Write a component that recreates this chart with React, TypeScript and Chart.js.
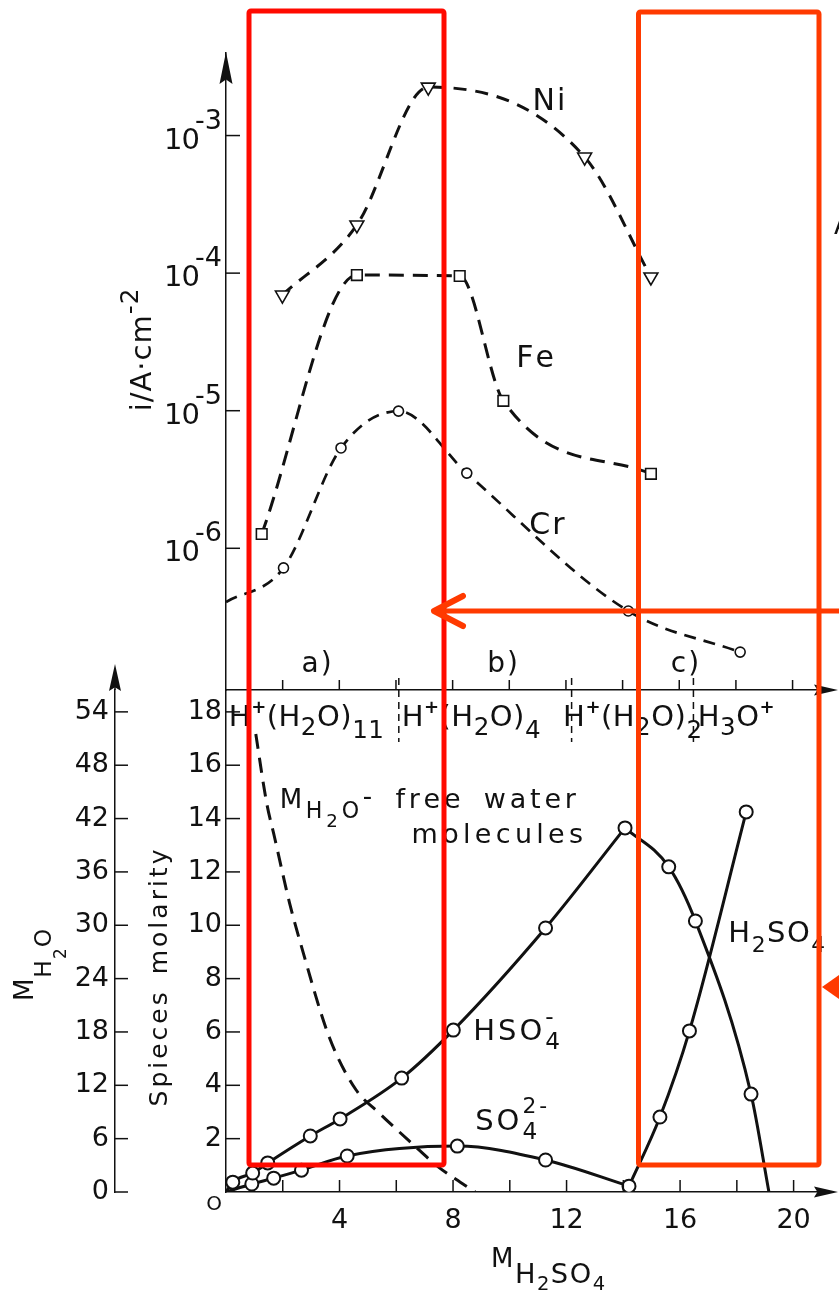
import React, { useEffect, useRef } from 'react';
import { Chart, registerables } from 'chart.js';

Chart.register(...registerables);

const FONT = '"DejaVu Sans", "Liberation Sans", sans-serif';
const INK = '#111';

// ---------- Upper panel: current density i (A/cm2, log) vs M H2SO4
const NI_X = [1.99, 4.62, 7.14, 12.66, 15.0];
const NI_I = [6.93e-5, 2.24e-4, 2.25e-3, 6.98e-4, 9.37e-5];
const FE_X = [1.26, 4.62, 8.25, 9.79, 15.0];
const FE_I = [1.27e-6, 9.68e-5, 9.53e-5, 1.18e-5, 3.48e-6];
const CR_X = [0, 2.03, 4.06, 6.09, 8.5, 14.2, 18.15];
const CR_I = [4.07e-7, 7.2e-7, 5.36e-6, 9.93e-6, 3.52e-6, 3.5e-7, 1.76e-7];
const LOG_DECADES = [-3, -4, -5, -6];
const SERIES_NAMES = ['Ni', 'Fe', 'Cr'];
const SERIES_LABEL_X = [11.4, 10.91, 11.33];
const SERIES_LABEL_I = [1.53e-3, 2.08e-5, 1.27e-6];
const REGION_NAMES = ['a)', 'b)', 'c)'];
const REGION_X = [3.2, 9.76, 16.2];
const SEPARATOR_X = [6.1, 12.2, 16.5];
const CLUSTER_X = [0.1, 6.2, 11.9, 16.65];

// ---------- Lower panel: species molarity vs M H2SO4
const HSO4_RISE_X = [0, 0.24, 0.94, 1.47, 2.97, 4.02, 6.19, 8.01, 11.26, 14.06];
const HSO4_RISE_Y = [0, 0.37, 0.71, 1.09, 2.1, 2.74, 4.27, 6.07, 9.9, 13.65];
const HSO4_FALL_X = [14.06, 15.6, 16.54, 18.5, 19.13];
const HSO4_FALL_Y = [13.65, 12.19, 10.16, 3.67, 0];
const SO4_X = [0, 0.91, 1.68, 2.66, 4.27, 8.15, 11.26, 14.2];
const SO4_Y = [0, 0.3, 0.52, 0.82, 1.35, 1.72, 1.2, 0.22];
const H2SO4_X = [14.2, 15.29, 16.33, 18.33];
const H2SO4_Y = [0.22, 2.81, 6.04, 14.25];
const WATER_X = [1.05, 1.43, 1.71, 2.24, 2.66, 3.64, 4.58, 5.39, 6.54, 7.49, 8.78];
const WATER_M = [51.5, 43.8, 39.9, 32.5, 27.6, 17.4, 11.5, 8.9, 5.5, 2.8, 0];
const X_TICKS = [2, 4, 6, 8, 10, 12, 14, 16, 18, 20];
const X_LABELS = [4, 8, 12, 16, 20];
const MOL_TICKS = [2, 4, 6, 8, 10, 12, 14, 16, 18];
const WATER_TICKS = [0, 6, 12, 18, 24, 30, 36, 42, 48, 54];

const X_MAX = 21.3;
const LOG_MIN = Math.pow(10, -7.03);
const LOG_MAX = Math.pow(10, -2.4);
const MOL_MAX = 18.82;
const LOWER_TOP = 640;

type Seg = { t: string; sz?: number; dy?: number; nx?: boolean; b?: boolean };
type RichOpts = { align?: 'left' | 'center' | 'right'; rot?: number; sp?: number; ws?: number };

const pts = (xs: number[], ys: number[]) => xs.map((x, i) => ({ x, y: ys[i] }));

function setFont(ctx: CanvasRenderingContext2D, base: number, s: Seg) {
  ctx.font = `${s.b ? 'bold ' : ''}${(base * (s.sz ?? 1)).toFixed(1)}px ${FONT}`;
}

function segAdvance(ctx: CanvasRenderingContext2D, s: Seg, base: number, sp: number, ws: number) {
  setFont(ctx, base, s);
  let w = 0;
  for (const ch of s.t) w += ctx.measureText(ch).width + sp + (ch === ' ' ? ws : 0);
  return w;
}

function drawRich(ctx: CanvasRenderingContext2D, segs: Seg[], x: number, y: number, base: number, o: RichOpts = {}) {
  const sp = o.sp ?? 0;
  const ws = o.ws ?? 0;
  ctx.save();
  ctx.translate(x, y);
  if (o.rot) ctx.rotate(o.rot);
  let total = 0;
  for (const s of segs) if (!s.nx) total += segAdvance(ctx, s, base, sp, ws);
  total -= sp;
  let cx = o.align === 'center' ? -total / 2 : o.align === 'right' ? -total : 0;
  ctx.fillStyle = INK;
  ctx.textAlign = 'left';
  ctx.textBaseline = 'alphabetic';
  for (const s of segs) {
    setFont(ctx, base, s);
    let px = cx;
    for (const ch of s.t) {
      ctx.fillText(ch, px, base * (s.dy ?? 0));
      px += ctx.measureText(ch).width + sp + (ch === ' ' ? ws : 0);
    }
    if (!s.nx) cx = px;
  }
  ctx.restore();
}

function seg(ctx: CanvasRenderingContext2D, x1: number, y1: number, x2: number, y2: number) {
  ctx.beginPath();
  ctx.moveTo(x1, y1);
  ctx.lineTo(x2, y2);
  ctx.stroke();
}

function arrowUp(ctx: CanvasRenderingContext2D, x: number, tipY: number, len: number, hw: number) {
  ctx.beginPath();
  ctx.moveTo(x, tipY);
  ctx.lineTo(x - hw, tipY + len);
  ctx.lineTo(x, tipY + len * 0.86);
  ctx.lineTo(x + hw, tipY + len);
  ctx.closePath();
  ctx.fill();
}

function arrowRight(ctx: CanvasRenderingContext2D, tipX: number, y: number, len: number, hw: number) {
  ctx.beginPath();
  ctx.moveTo(tipX, y);
  ctx.lineTo(tipX - len, y - hw);
  ctx.lineTo(tipX - len * 0.86, y);
  ctx.lineTo(tipX - len, y + hw);
  ctx.closePath();
  ctx.fill();
}

const PLUS: Seg = { t: '+', sz: 0.62, dy: -0.45, b: true };
const CLUSTERS: Seg[][] = [
  [{ t: 'H' }, PLUS, { t: '(H' }, { t: '2', sz: 0.85, dy: 0.3 }, { t: 'O)' }, { t: '11', sz: 0.85, dy: 0.4 }],
  [{ t: 'H' }, PLUS, { t: '(H' }, { t: '2', sz: 0.85, dy: 0.3 }, { t: 'O)' }, { t: '4', sz: 0.85, dy: 0.4 }],
  [{ t: 'H' }, PLUS, { t: '(H' }, { t: '2', sz: 0.85, dy: 0.3 }, { t: 'O)' }, { t: '2', sz: 0.85, dy: 0.4 }],
  [{ t: 'H' }, { t: '3', sz: 0.85, dy: 0.3 }, { t: 'O' }, PLUS],
];

const upperDeco = {
  id: 'upperDeco',
  afterDraw(chart: any) {
    const ctx: CanvasRenderingContext2D = chart.ctx;
    const a = chart.chartArea;
    const xs = chart.scales.x;
    const ys = chart.scales.y;
    ctx.save();
    ctx.strokeStyle = INK;
    ctx.fillStyle = INK;
    ctx.lineWidth = 1.5;
    // axis arrows
    arrowUp(ctx, a.left, a.top - 1, 32, 6.5);
    seg(ctx, a.right, a.bottom, 834, a.bottom);
    arrowRight(ctx, 838, a.bottom, 24, 5.5);
    // decade ticks and labels
    for (const e of LOG_DECADES) {
      const py = ys.getPixelForValue(Math.pow(10, e));
      seg(ctx, a.left, py, a.left + 14, py);
      drawRich(ctx, [{ t: '10' }], a.left - 26, py + 13, 29, { align: 'right', sp: -1 });
      drawRich(ctx, [{ t: '-' + Math.abs(e) }], a.left - 31, py - 7, 27);
    }
    // x ticks on the separating axis
    for (const v of X_TICKS) {
      const px = xs.getPixelForValue(v);
      seg(ctx, px, a.bottom, px, a.bottom - 10);
    }
    ctx.setLineDash([7, 5]);
    for (const v of SEPARATOR_X) {
      const px = xs.getPixelForValue(v);
      seg(ctx, px, a.bottom - 12, px, a.bottom + 52);
    }
    ctx.setLineDash([]);
    REGION_NAMES.forEach((n, i) =>
      drawRich(ctx, [{ t: n }], xs.getPixelForValue(REGION_X[i]), a.bottom - 18, 28, { align: 'center', sp: 2 })
    );
    CLUSTERS.forEach((c, i) => drawRich(ctx, c, xs.getPixelForValue(CLUSTER_X[i]), a.bottom + 36, 29, { sp: 0.5 }));
    SERIES_NAMES.forEach((n, i) =>
      drawRich(ctx, [{ t: n }], xs.getPixelForValue(SERIES_LABEL_X[i]), ys.getPixelForValue(SERIES_LABEL_I[i]), 30, {
        align: 'center',
        sp: 2,
      })
    );
    // y axis title
    drawRich(ctx, [{ t: 'i/A·cm' }, { t: '-2', sz: 0.85, dy: -0.45 }], 151, 350, 29, {
      align: 'center',
      rot: -Math.PI / 2,
      sp: 1,
    });
    // cut-off letter at the right border
    drawRich(ctx, [{ t: 'A' }], 834, 234, 26);
    ctx.restore();
  },
};

const lowerDeco = {
  id: 'lowerDeco',
  afterDraw(chart: any) {
    const ctx: CanvasRenderingContext2D = chart.ctx;
    const a = chart.chartArea;
    const xs = chart.scales.x;
    const yM = chart.scales.yM;
    const yW = chart.scales.yW;
    const wx = yW.right;
    ctx.save();
    ctx.strokeStyle = INK;
    ctx.fillStyle = INK;
    ctx.lineWidth = 1.5;
    seg(ctx, wx, a.top, wx, a.top - 15);
    arrowUp(ctx, wx, a.top - 26, 27, 6);
    for (const v of MOL_TICKS) {
      const py = yM.getPixelForValue(v);
      seg(ctx, a.left, py, a.left + 14, py);
    }
    for (const v of WATER_TICKS) {
      const py = yW.getPixelForValue(v);
      seg(ctx, wx, py, wx + 13, py);
    }
    for (const v of X_TICKS) {
      const px = xs.getPixelForValue(v);
      seg(ctx, px, a.bottom, px, a.bottom - 12);
    }
    seg(ctx, a.right, a.bottom, 834, a.bottom);
    arrowRight(ctx, 838, a.bottom, 24, 5.5);
    // origin label
    drawRich(ctx, [{ t: 'O' }], a.left - 12, a.bottom + 18, 20, { align: 'center' });
    // curve labels
    const X = (v: number) => xs.getPixelForValue(v);
    const Y = (v: number) => yM.getPixelForValue(v);
    drawRich(
      ctx,
      [
        { t: 'M' },
        { t: 'H', sz: 0.85, dy: 0.38 },
        { t: '2', sz: 0.7, dy: 0.72 },
        { t: 'O', sz: 0.85, dy: 0.38 },
        { t: '-', dy: -0.12 },
        { t: ' free water', sz: 1.04 },
      ],
      X(1.89),
      Y(14.4),
      26,
      { sp: 3.8, ws: 7 }
    );
    drawRich(ctx, [{ t: 'molecules' }], X(6.54), Y(13.08), 27, { sp: 4.3 });
    drawRich(
      ctx,
      [{ t: 'HSO' }, { t: '-', sz: 0.8, dy: -0.55, nx: true }, { t: '4', sz: 0.8, dy: 0.3 }],
      X(8.71),
      Y(5.7),
      29,
      { sp: 3 }
    );
    drawRich(
      ctx,
      [{ t: 'SO' }, { t: '2-', sz: 0.75, dy: -0.6, nx: true }, { t: '4', sz: 0.8, dy: 0.3 }],
      X(8.78),
      Y(2.32),
      29,
      { sp: 3 }
    );
    drawRich(
      ctx,
      [{ t: 'H' }, { t: '2', sz: 0.75, dy: 0.35 }, { t: 'SO' }, { t: '4', sz: 0.75, dy: 0.35 }],
      X(17.7),
      Y(9.37),
      29,
      { sp: 1.5 }
    );
    // axis titles
    drawRich(
      ctx,
      [
        { t: 'M' },
        { t: 'H', sz: 1.05, dy: 0.6 },
        { t: '2', sz: 0.75, dy: 0.88 },
        { t: 'SO', sz: 1.05, dy: 0.6 },
        { t: '4', sz: 0.75, dy: 0.88 },
      ],
      548,
      1267 - LOWER_TOP,
      26,
      { align: 'center', sp: 1.5 }
    );
    drawRich(ctx, [{ t: 'Spieces molarity' }], 167, 978 - LOWER_TOP, 25, {
      align: 'center',
      rot: -Math.PI / 2,
      sp: 3,
      ws: 4,
    });
    drawRich(
      ctx,
      [{ t: 'M' }, { t: 'H', sz: 0.9, dy: 0.68 }, { t: '2', sz: 0.65, dy: 1.25 }, { t: 'O', sz: 0.9, dy: 0.68 }],
      33,
      965 - LOWER_TOP,
      26,
      { align: 'center', rot: -Math.PI / 2, sp: 1 }
    );
    ctx.restore();
  },
};

const hidden = { display: false, drawTicks: false };
const axisBorder = { display: true, color: INK, width: 1.5 };

export default function App() {
  const topRef = useRef<HTMLCanvasElement>(null);
  const botRef = useRef<HTMLCanvasElement>(null);

  useEffect(() => {
    const dashed = (dash: number[], w: number) => ({
      borderColor: INK,
      borderWidth: w,
      borderDash: dash,
      fill: false,
      cubicInterpolationMode: 'monotone',
      pointBackgroundColor: '#fff',
      pointBorderColor: INK,
      pointBorderWidth: 1.6,
    });
    const upper = new Chart(topRef.current as HTMLCanvasElement, {
      type: 'line',
      data: {
        datasets: [
          {
            label: 'Ni',
            data: pts(NI_X, NI_I),
            ...dashed([13, 9], 3),
            pointStyle: 'triangle',
            rotation: 180,
            pointRadius: 8,
          },
          {
            label: 'Fe',
            data: pts(FE_X, FE_I),
            ...dashed([15, 9], 3),
            pointStyle: 'rect',
            pointRadius: 7.5,
          },
          {
            label: 'Cr',
            data: pts(CR_X, CR_I),
            ...dashed([12, 8], 2.7),
            pointStyle: 'circle',
            pointRadius: CR_X.map((_, i) => (i === 0 ? 0 : 5)),
          },
        ] as any,
      },
      options: {
        animation: false,
        responsive: false,
        devicePixelRatio: 1,
        events: [],
        layout: { padding: { top: 53, right: 4, left: 0, bottom: 0 } },
        plugins: { legend: { display: false }, tooltip: { enabled: false } },
        scales: {
          x: {
            type: 'linear',
            min: 0,
            max: X_MAX,
            ticks: { display: false },
            grid: hidden,
            border: axisBorder,
            afterFit: (s: any) => {
              s.height = 70;
            },
          },
          y: {
            type: 'logarithmic',
            min: LOG_MIN,
            max: LOG_MAX,
            ticks: { display: false },
            grid: hidden,
            border: axisBorder,
            afterFit: (s: any) => {
              s.width = 226;
            },
          },
        } as any,
      },
      plugins: [upperDeco],
    });

    const solid = {
      borderColor: INK,
      borderWidth: 3,
      fill: false,
      cubicInterpolationMode: 'monotone',
      pointBackgroundColor: '#fff',
      pointBorderColor: INK,
      pointBorderWidth: 2,
      yAxisID: 'yM',
    };
    const lower = new Chart(botRef.current as HTMLCanvasElement, {
      type: 'line',
      data: {
        datasets: [
          {
            label: 'HSO4-',
            data: pts(HSO4_RISE_X, HSO4_RISE_Y),
            ...solid,
            pointRadius: HSO4_RISE_X.map((_, i) => (i === 0 ? 0 : 6.5)),
          },
          {
            label: 'HSO4- (high)',
            data: pts(HSO4_FALL_X, HSO4_FALL_Y),
            ...solid,
            pointRadius: HSO4_FALL_X.map((_, i) => (i === 0 || i === HSO4_FALL_X.length - 1 ? 0 : 6.5)),
          },
          {
            label: 'SO4 2-',
            data: pts(SO4_X, SO4_Y),
            ...solid,
            pointRadius: SO4_X.map((_, i) => (i === 0 ? 0 : 6.5)),
          },
          {
            label: 'H2SO4',
            data: pts(H2SO4_X, H2SO4_Y),
            ...solid,
            pointRadius: H2SO4_X.map((_, i) => (i === 0 ? 0 : 6.5)),
          },
          {
            label: 'M H2O free water',
            data: pts(WATER_X, WATER_M),
            borderColor: INK,
            borderWidth: 3,
            borderDash: [15, 9],
            fill: false,
            pointRadius: 0,
            cubicInterpolationMode: 'monotone',
            yAxisID: 'yW',
          },
        ] as any,
      },
      options: {
        animation: false,
        responsive: false,
        devicePixelRatio: 1,
        events: [],
        layout: { padding: { top: 50, right: 4, left: 0, bottom: 0 } },
        plugins: { legend: { display: false }, tooltip: { enabled: false } },
        scales: {
          x: {
            type: 'linear',
            min: 0,
            max: X_MAX,
            afterBuildTicks: (s: any) => {
              s.ticks = X_TICKS.map((v) => ({ value: v }));
            },
            ticks: {
              autoSkip: false,
              maxRotation: 0,
              padding: 13,
              color: INK,
              font: { family: FONT, size: 27 },
              callback: (v: any) => (X_LABELS.includes(Number(v)) ? String(v) : ''),
            },
            grid: hidden,
            border: axisBorder,
            afterFit: (s: any) => {
              s.height = 100;
            },
          },
          yM: {
            type: 'linear',
            position: 'left',
            weight: 0,
            min: 0,
            max: MOL_MAX,
            afterBuildTicks: (s: any) => {
              s.ticks = MOL_TICKS.map((v) => ({ value: v }));
            },
            ticks: {
              autoSkip: false,
              padding: 4,
              color: INK,
              font: { family: FONT, size: 27 },
              callback: (v: any) => String(v),
            },
            grid: hidden,
            border: axisBorder,
            afterFit: (s: any) => {
              s.width = 111;
            },
          },
          yW: {
            type: 'linear',
            position: 'left',
            weight: 1,
            min: 0,
            max: MOL_MAX * 3,
            afterBuildTicks: (s: any) => {
              s.ticks = WATER_TICKS.map((v) => ({ value: v }));
            },
            ticks: {
              autoSkip: false,
              padding: 6,
              color: INK,
              font: { family: FONT, size: 27 },
              callback: (v: any) => String(v),
            },
            grid: hidden,
            border: axisBorder,
            afterFit: (s: any) => {
              s.width = 115;
            },
          },
        } as any,
      },
      plugins: [lowerDeco],
    });

    return () => {
      upper.destroy();
      lower.destroy();
    };
  }, []);

  const red = '#ff0a00';
  const orange = '#ff3a00';
  return (
    <div style={{ position: 'absolute', left: 0, top: 0, width: 839, height: 1292, background: '#fff', overflow: 'hidden' }}>
      <canvas
        ref={topRef}
        width={839}
        height={760}
        style={{ position: 'absolute', left: 0, top: 0, width: 839, height: 760 }}
      />
      <canvas
        ref={botRef}
        width={839}
        height={652}
        style={{ position: 'absolute', left: 0, top: LOWER_TOP, width: 839, height: 652 }}
      />
      <svg width={839} height={1292} style={{ position: 'absolute', left: 0, top: 0, pointerEvents: 'none' }}>
        <rect x={249} y={11} width={195} height={1154} fill="none" stroke={red} strokeWidth={5} rx={2} />
        <rect x={638.5} y={12} width={180.5} height={1153} fill="none" stroke={orange} strokeWidth={5} rx={2} />
        <line x1={839} y1={611} x2={434} y2={611} stroke={orange} strokeWidth={5} />
        <polyline
          points="463,596 434,611 463,626"
          fill="none"
          stroke={orange}
          strokeWidth={6}
          strokeLinecap="round"
          strokeLinejoin="round"
        />
        <polygon points="822,987 839,975 839,999" fill={orange} />
      </svg>
    </div>
  );
}
